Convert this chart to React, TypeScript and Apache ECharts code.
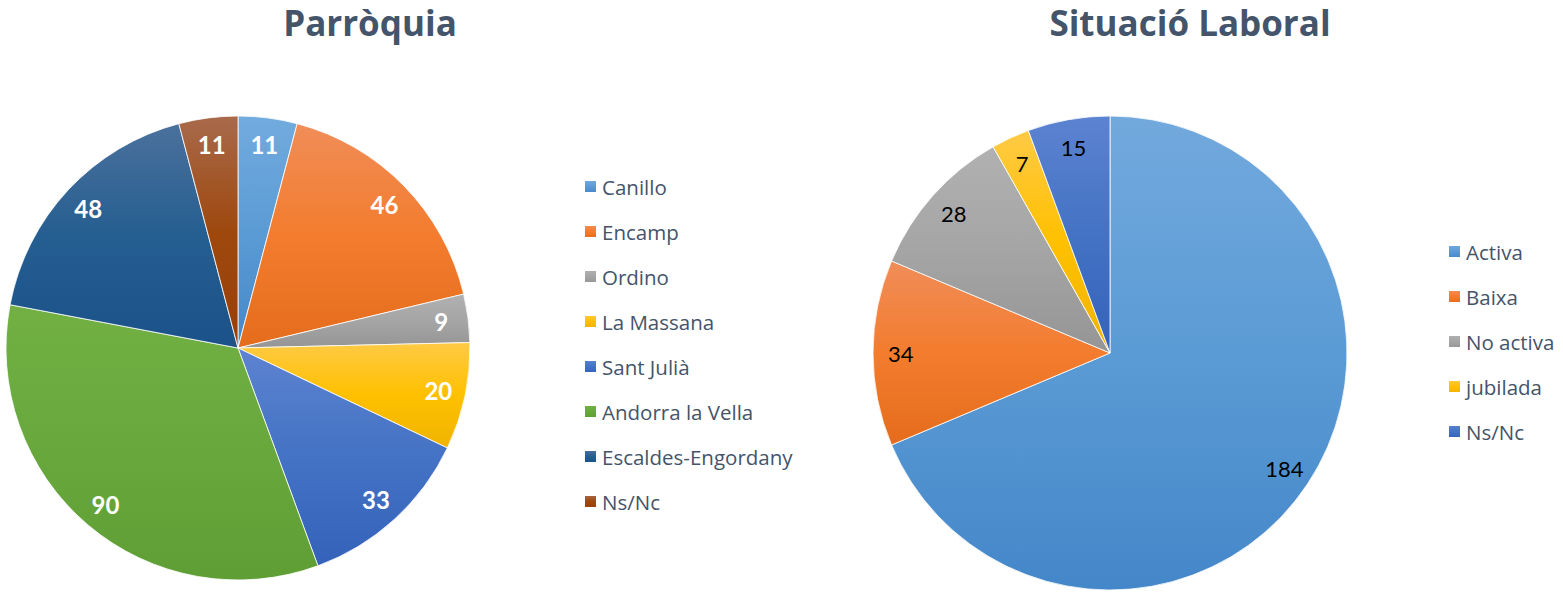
import React, { useEffect, useRef } from "react";
import * as echarts from "echarts";

const parroquiaNames = ["Canillo", "Encamp", "Ordino", "La Massana", "Sant Julià", "Andorra la Vella", "Escaldes-Engordany", "Ns/Nc"];
const parroquiaValues = [11, 46, 9, 20, 33, 90, 48, 11];
const parroquiaColors = [
  ["#72ABDE", "#5B9BD5", "#4587C8"],
  ["#F08D58", "#F37C2E", "#E46C1C"],
  ["#B1B1B1", "#A5A5A5", "#959595"],
  ["#FFCA45", "#FFC000", "#F0B400"],
  ["#5C83D1", "#4472C4", "#3462BA"],
  ["#72B043", "#68A83D", "#5E9E34"],
  ["#4B719C", "#255E91", "#1A5289"],
  ["#A86A4C", "#9E480E", "#983F08"],
];

const laboralNames = ["Activa", "Baixa", "No activa", "jubilada", "Ns/Nc"];
const laboralValues = [184, 34, 28, 7, 15];
const laboralColors = [
  ["#72A9DD", "#5B9BD5", "#4487C9"],
  ["#F08D58", "#F37C2E", "#E46C1C"],
  ["#B1B1B1", "#A5A5A5", "#959595"],
  ["#FFCA45", "#FFC000", "#F0B400"],
  ["#5C83D1", "#4472C4", "#3462BA"],
];

const FONT = "Lato";
const LEGEND_FONT = "Open Sans";
const TEXT = "#44546A";

function grad(c: string[]) {
  return new echarts.graphic.LinearGradient(0, 0, 0, 1, [
    { offset: 0, color: c[0] },
    { offset: 0.5, color: c[1] },
    { offset: 1, color: c[2] },
  ]);
}

export default function App() {
  const ref = useRef<HTMLDivElement>(null);
  useEffect(() => {
    document.body.style.margin = "0";
    const chart = echarts.init(ref.current!, null, { renderer: "svg" });
    const leftR = 232;
    const rightR = 237;
    const leftCenter = [238, 348];
    const rightCenter = [1110, 353];

    const mkData = (names: string[], values: number[], colors: string[][]) =>
      names.map((n, i) => ({ name: n, value: values[i], itemStyle: { color: grad(colors[i]) } }));

    const overlay = (names: string[], values: number[], center: number[], r: number, label: any) => ({
      type: "pie",
      center,
      radius: [r * 0.74, r],
      startAngle: 90,
      clockwise: true,
      silent: true,
      legendHoverLink: false,
      itemStyle: { color: "rgba(0,0,0,0)", borderWidth: 0 },
      label: { show: true, position: "inside", formatter: "{c}", ...label },
      labelLine: { show: false },
      emphasis: { disabled: true },
      data: names.map((n, i) => ({ name: n, value: values[i] })),
    });

    const legendBase = {
      orient: "vertical",
      icon: "rect",
      padding: 0,
      itemWidth: 13,
      itemHeight: 13,
      itemGap: 24,
      selectedMode: false,
      textStyle: { fontFamily: LEGEND_FONT, fontSize: 20.5, color: TEXT, lineHeight: 21 },
    };

    chart.setOption({
      animation: false,
      title: [
        {
          text: "Parròquia",
          left: 365,
          top: 0,
          textAlign: "center",
          textStyle: { fontFamily: LEGEND_FONT, fontSize: 35, fontWeight: "bold", color: TEXT },
        },
        {
          text: "Situació Laboral",
          left: 1185,
          top: 0,
          textAlign: "center",
          textStyle: { fontFamily: LEGEND_FONT, fontSize: 35, fontWeight: "bold", color: TEXT },
        },
      ],
      legend: [
        {
          ...legendBase,
          left: 583,
          top: 176,
          data: parroquiaNames.map((n, i) => ({ name: n, itemStyle: { color: grad(parroquiaColors[i]) } })),
        },
        {
          ...legendBase,
          left: 1447,
          top: 241,
          data: laboralNames.map((n, i) => ({ name: n, itemStyle: { color: grad(laboralColors[i]) } })),
        },
      ],
      series: [
        {
          type: "pie",
          center: leftCenter,
          radius: leftR,
          startAngle: 90,
          clockwise: true,
          label: { show: false },
          labelLine: { show: false },
          itemStyle: { borderColor: "#ffffff", borderWidth: 0.8 },
          emphasis: { disabled: true },
          data: mkData(parroquiaNames, parroquiaValues, parroquiaColors),
        },
        {
          type: "pie",
          center: rightCenter,
          radius: rightR,
          startAngle: 90,
          clockwise: true,
          label: { show: false },
          labelLine: { show: false },
          itemStyle: { borderColor: "#ffffff", borderWidth: 0.8 },
          emphasis: { disabled: true },
          data: mkData(laboralNames, laboralValues, laboralColors),
        },
        overlay(parroquiaNames, parroquiaValues, leftCenter, leftR, {
          color: "#ffffff",
          fontFamily: FONT,
          fontSize: 24,
          fontWeight: "bold",
        }),
        overlay(laboralNames, laboralValues, rightCenter, rightR, {
          color: "#000000",
          fontFamily: FONT,
          fontSize: 22,
        }),
      ],
    });
    return () => chart.dispose();
  }, []);
  return <div ref={ref} style={{ width: 1563, height: 592 }} />;
}
